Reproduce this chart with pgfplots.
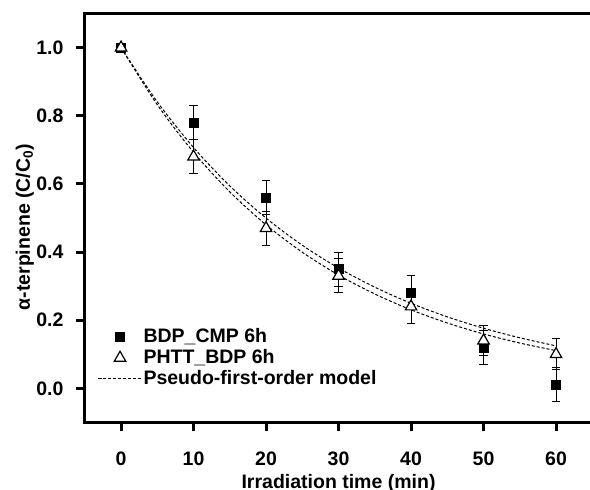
\documentclass[border=0pt]{standalone}
\usepackage{fontspec}
\setmainfont{Liberation Sans}
\usepackage{pgfplots}
\pgfplotsset{compat=1.18}

\pgfplotstableread{
t   c     e
0   1.00  0
10  0.78  0.05
20  0.56  0.05
30  0.35  0.05
40  0.28  0.05
50  0.12  0.05
60  0.01  0.05
}\bdpcmp

\pgfplotstableread{
t   c     e
0   1.00  0
10  0.68  0.05
20  0.47  0.05
30  0.33  0.05
40  0.24  0.05
50  0.14  0.045
60  0.10  0.045
}\phttbdp

% pseudo-first-order fits
\pgfplotstableread{
t   c
0   1.0000
5   0.8407
10  0.7068
15  0.5942
20  0.4996
25  0.4200
30  0.3531
35  0.2969
40  0.2496
45  0.2098
50  0.1764
55  0.1483
60  0.1247
}\fitA

\pgfplotstableread{
t   c
0   1.0000
5   0.8324
10  0.6928
15  0.5767
20  0.4800
25  0.3995
30  0.3325
35  0.2768
40  0.2304
45  0.1918
50  0.1596
55  0.1329
60  0.1106
}\fitB

\newcommand{\lblfont}{\bfseries\fontsize{9.75}{11}\selectfont}

\begin{document}
\begin{tikzpicture}
\begin{axis}[
    at={(0,0)}, anchor=south west,
    scale only axis,
    width=253.75pt, height=204.4pt,
    xmin=-5, xmax=65,
    ymin=-0.1, ymax=1.1,
    xtick={0,10,...,60},
    ytick={0,0.2,...,1.0},
    axis line style={line width=1.5pt},
    tick style={line width=1.5pt, black},
    tick align=outside,
    major tick length=4.5pt,
    xtick pos=left, ytick pos=left,
    /pgf/number format/assume math mode=true,
    tick label style={font=\lblfont},
    yticklabel style={/pgf/number format/.cd, fixed, fixed zerofill, precision=1, /tikz/.cd,
        anchor=east, inner sep=0pt, xshift=-6pt},
    xticklabel style={anchor=base, inner sep=0pt, yshift=-17.3pt},
    xlabel={Irradiation time (min)},
    ylabel={α-terpinene (C/C\textsubscript{0})},
    every axis x label/.style={at={([yshift=-33pt]axis description cs:0.5,0)}, anchor=base, font=\lblfont},
    every axis y label/.style={at={([xshift=-30pt]axis description cs:0,0.478)}, rotate=90, anchor=center, font=\lblfont},
    legend image code/.code={\draw[mark repeat=2, mark phase=2] plot coordinates {(0pt,0pt) (11pt,0pt) (22pt,0pt)};},
    legend cell align=left,
    legend style={at={(axis cs:-3.3,0.183)}, anchor=north west, draw=none, fill=none,
        inner sep=0pt, font=\lblfont,
        nodes={inner sep=0.5pt, text height=7.5pt, text depth=2pt},
        /tikz/every even column/.append style={column sep=2.5pt}},
]
\addplot[only marks, mark=square*, mark size=2.25pt, black,
    error bars/.cd, y dir=both, y explicit,
    error bar style={line width=0.5pt, black},
    error mark options={rotate=90, mark size=2.2pt, line width=0.5pt, black}]
    table[x=t, y=c, y error=e] {\bdpcmp};
\addlegendentry{BDP\_CMP 6h}

\addplot[only marks, mark=triangle*, mark size=3.3pt, black, mark options={fill=white, line width=0.6pt},
    error bars/.cd, y dir=both, y explicit,
    error bar style={line width=0.5pt, black},
    error mark options={rotate=90, mark size=2.2pt, line width=0.5pt, black, fill=black}]
    table[x=t, y=c, y error=e] {\phttbdp};
\addlegendentry{PHTT\_BDP 6h}

\addplot[smooth, black, line width=0.5pt, dash pattern=on 1.5pt off 1pt, no marks]
    table[x=t, y=c] {\fitA};
\addlegendentry{Pseudo-first-order model}

\addplot[smooth, black, line width=0.5pt, dash pattern=on 1.5pt off 1pt, no marks, forget plot]
    table[x=t, y=c] {\fitB};
\end{axis}
\pgfresetboundingbox
\path[use as bounding box] (-42.4pt,-33.8pt) rectangle (252.6pt,211.2pt);
\end{tikzpicture}
\end{document}
